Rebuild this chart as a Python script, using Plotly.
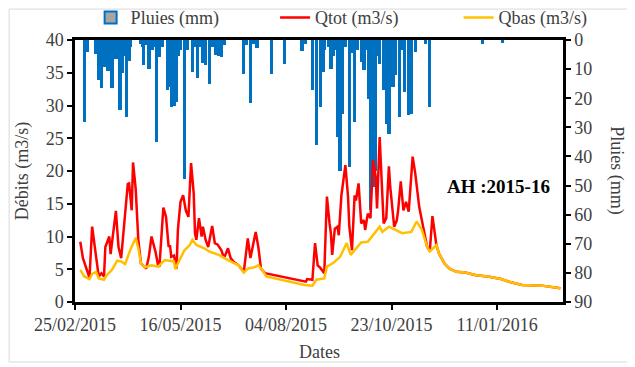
import plotly.graph_objects as go

# ---------------- data ----------------
rain_dates = [
    "2015-03-04", "2015-03-06", "2015-03-13", "2015-03-15", "2015-03-17", "2015-03-18",
    "2015-03-19", "2015-03-20", "2015-03-22", "2015-03-23", "2015-03-25", "2015-03-26",
    "2015-03-28", "2015-03-29", "2015-03-31", "2015-04-01", "2015-04-02", "2015-04-04",
    "2015-04-05", "2015-04-07", "2015-04-08", "2015-04-16", "2015-04-17", "2015-04-18",
    "2015-04-20", "2015-04-22", "2015-04-23", "2015-04-25", "2015-04-26", "2015-04-28",
    "2015-04-30", "2015-05-02", "2015-05-06", "2015-05-08", "2015-05-09", "2015-05-11",
    "2015-05-13", "2015-05-14", "2015-05-16", "2015-05-19", "2015-05-21", "2015-05-25",
    "2015-05-27", "2015-05-29", "2015-05-31", "2015-06-02", "2015-06-04", "2015-06-07",
    "2015-06-09", "2015-06-12", "2015-06-14", "2015-06-16", "2015-06-18", "2015-07-03",
    "2015-07-05", "2015-07-08", "2015-07-10", "2015-07-13", "2015-07-24", "2015-08-03",
    "2015-08-16", "2015-08-19", "2015-08-24", "2015-08-27", "2015-08-30", "2015-09-01",
    "2015-09-02", "2015-09-05", "2015-09-07", "2015-09-09", "2015-09-10", "2015-09-12",
    "2015-09-14", "2015-09-16", "2015-09-18", "2015-09-21", "2015-09-23", "2015-09-25",
    "2015-09-27", "2015-09-30", "2015-10-02", "2015-10-04", "2015-10-06", "2015-10-07",
    "2015-10-09", "2015-10-11", "2015-10-12", "2015-10-14", "2015-10-17", "2015-10-19",
    "2015-10-21", "2015-10-24", "2015-10-26", "2015-10-29", "2015-10-31", "2015-11-02",
    "2015-11-05", "2015-11-07", "2015-11-10", "2015-11-18", "2015-11-21", "2015-12-31",
    "2016-01-15",
]
rain_mm = [
    27.8, 3.9, 4.5, 13.4, 16.0, 6.0,
    8.8, 8.4, 10.3, 5.0, 16.0, 4.0,
    6.3, 5.0, 23.7, 8.0, 11.0, 5.0,
    26.0, 6.8, 2.0, 0.9, 2.0, 8.4,
    1.5, 9.6, 3.0, 3.2, 2.0, 34.7,
    5.5, 2.0, 17.0, 15.8, 22.8, 22.2,
    21.1, 5.0, 3.0, 47.5, 3.0, 10.7,
    2.0, 12.6, 2.0, 7.5, 8.4, 14.8,
    2.0, 4.9, 5.2, 5.5, 1.5, 11.5,
    1.5, 21.2, 1.0, 2.3, 11.5, 7.8,
    3.4, 1.0, 16.8, 35.8, 22.5, 10.5,
    3.0, 2.0, 9.5, 5.0, 3.0, 33.0,
    44.5, 25.0, 2.0, 43.3, 4.0, 27.8,
    3.0, 7.2, 10.0, 3.0, 19.8, 58.0,
    50.0, 44.7, 5.0, 8.0, 16.9, 28.4,
    31.8, 15.8, 11.8, 26.0, 3.0, 17.5,
    25.5, 25.0, 3.8, 0.9, 22.7, 1.2,
    0.7,
]

qtot_dates = [
    "2015-03-01", "2015-03-03", "2015-03-08", "2015-03-10", "2015-03-13", "2015-03-15",
    "2015-03-17", "2015-03-19", "2015-03-20", "2015-03-23", "2015-03-24", "2015-03-28",
    "2015-03-30", "2015-04-01", "2015-04-06", "2015-04-07", "2015-04-09", "2015-04-10",
    "2015-04-12", "2015-04-14", "2015-04-16", "2015-04-20", "2015-04-22", "2015-04-24",
    "2015-04-27", "2015-04-29", "2015-04-30", "2015-05-03", "2015-05-05", "2015-05-07",
    "2015-05-08", "2015-05-09", "2015-05-11", "2015-05-13", "2015-05-14", "2015-05-16",
    "2015-05-18", "2015-05-20", "2015-05-22", "2015-05-24", "2015-05-26", "2015-05-27",
    "2015-05-28", "2015-05-30", "2015-06-01", "2015-06-02", "2015-06-04", "2015-06-06",
    "2015-06-09", "2015-06-11", "2015-06-13", "2015-06-16", "2015-06-18", "2015-06-21",
    "2015-06-23", "2015-06-25", "2015-06-29", "2015-07-03", "2015-07-06", "2015-07-08",
    "2015-07-12", "2015-07-14", "2015-07-16", "2015-07-19", "2015-08-19", "2015-08-20",
    "2015-08-24", "2015-08-26", "2015-08-28", "2015-08-30", "2015-09-02", "2015-09-04",
    "2015-09-06", "2015-09-07", "2015-09-08", "2015-09-10", "2015-09-12", "2015-09-13",
    "2015-09-15", "2015-09-18", "2015-09-20", "2015-09-21", "2015-09-23", "2015-09-25",
    "2015-09-26", "2015-09-28", "2015-09-30", "2015-10-02", "2015-10-03", "2015-10-05",
    "2015-10-07", "2015-10-09", "2015-10-11", "2015-10-12", "2015-10-14", "2015-10-16",
    "2015-10-17", "2015-10-19", "2015-10-21", "2015-10-22", "2015-10-23", "2015-10-25",
    "2015-10-27", "2015-10-28", "2015-10-30", "2015-11-01", "2015-11-03", "2015-11-05",
    "2015-11-08", "2015-11-10", "2015-11-13", "2015-11-16", "2015-11-19", "2015-11-21",
    "2015-11-23", "2015-11-26", "2015-11-28", "2015-12-02", "2015-12-06", "2015-12-11",
    "2015-12-18", "2015-12-26", "2016-01-04", "2016-01-14", "2016-01-20", "2016-01-30",
    "2016-02-14", "2016-02-28",
]
qtot = [
    9.2, 6.7, 3.7, 11.5, 6.9, 3.9,
    4.4, 3.9, 8.4, 10.0, 7.3, 13.9,
    8.4, 6.7, 18.0, 18.1, 14.0, 21.3,
    17.3, 9.5, 5.9, 5.1, 6.9, 10.0,
    7.7, 5.6, 5.4, 14.4, 13.0, 8.4,
    8.7, 6.9, 7.1, 5.1, 11.0, 15.3,
    16.3, 14.0, 13.0, 21.2, 16.6, 10.5,
    9.5, 12.8, 10.0, 11.5, 9.5, 8.4,
    11.6, 9.0, 8.8, 7.9, 6.7, 8.2,
    6.7, 6.2, 5.6, 4.6, 9.7, 6.7,
    10.7, 8.4, 5.1, 4.4, 3.1, 3.5,
    3.4, 9.0, 5.6, 5.2, 4.4, 16.1,
    12.0, 10.5, 7.2, 11.2, 11.5, 10.2,
    16.3, 20.9, 16.1, 11.5, 7.9, 16.3,
    15.5, 18.1, 12.0, 12.5, 11.0, 13.5,
    12.8, 21.7, 19.1, 14.3, 25.2, 17.6,
    12.0, 12.8, 20.7, 17.6, 15.6, 11.5,
    12.5, 14.0, 18.4, 14.0, 15.3, 13.8,
    22.2, 19.6, 14.5, 11.5, 8.4, 7.8,
    13.1, 8.7, 7.4, 5.9, 5.1, 4.6,
    4.5, 4.1, 3.9, 3.5, 3.1, 2.6,
    2.5, 2.1,
]

qbas_dates = [
    "2015-03-01", "2015-03-04", "2015-03-08", "2015-03-10", "2015-03-13", "2015-03-15",
    "2015-03-19", "2015-03-21", "2015-03-25", "2015-03-29", "2015-04-01", "2015-04-04",
    "2015-04-08", "2015-04-12", "2015-04-14", "2015-04-16", "2015-04-19", "2015-04-24",
    "2015-04-29", "2015-05-04", "2015-05-11", "2015-05-12", "2015-05-14", "2015-05-19",
    "2015-05-23", "2015-05-25", "2015-05-28", "2015-06-03", "2015-06-07", "2015-06-14",
    "2015-06-21", "2015-06-29", "2015-07-03", "2015-07-06", "2015-07-11", "2015-07-14",
    "2015-07-17", "2015-07-20", "2015-08-18", "2015-08-24", "2015-08-27", "2015-09-02",
    "2015-09-04", "2015-09-09", "2015-09-14", "2015-09-19", "2015-09-22", "2015-09-26",
    "2015-09-30", "2015-10-05", "2015-10-09", "2015-10-14", "2015-10-16", "2015-10-21",
    "2015-10-26", "2015-10-31", "2015-11-07", "2015-11-11", "2015-11-15", "2015-11-19",
    "2015-11-21", "2015-11-26", "2015-11-28", "2015-12-02", "2015-12-06", "2015-12-11",
    "2015-12-18", "2015-12-26", "2016-01-04", "2016-01-14", "2016-01-20", "2016-01-30",
    "2016-02-14", "2016-02-28",
]
qbas = [
    4.9, 3.9, 3.5, 4.3, 4.6, 3.6,
    3.4, 4.1, 4.9, 6.3, 6.2, 5.8,
    8.0, 9.8, 8.2, 5.9, 5.3, 5.6,
    5.4, 6.4, 6.2, 5.0, 5.9, 7.9,
    8.7, 9.5, 8.7, 8.2, 7.7, 7.2,
    6.4, 5.6, 4.5, 5.1, 5.3, 5.6,
    4.9, 3.9, 2.6, 2.5, 3.4, 3.6,
    5.4, 6.0, 6.9, 9.0, 7.2, 8.2,
    9.1, 9.2, 10.2, 11.5, 10.7, 11.5,
    11.0, 10.5, 10.7, 12.3, 11.0, 8.4,
    7.7, 8.7, 7.4, 5.9, 5.1, 4.6,
    4.5, 4.1, 3.9, 3.5, 3.1, 2.6,
    2.5, 2.1,
]

x_range = ["2015-02-25", "2016-03-01"]
tick_start = "2015-02-25"
tick_step_days = 80

# ---------------- figure ----------------
FONT = "Liberation Serif"
TXT = "#404040"
DAY_MS = 86400000

fig = go.Figure()
fig.add_trace(go.Bar(
    x=rain_dates, y=rain_mm, name="Pluies (mm)", yaxis="y", legend="legend",
    width=1.0 * DAY_MS,
    marker=dict(color="#A6A6A6", line=dict(color="#0070C0", width=2)),
))
fig.add_trace(go.Scatter(
    x=qtot_dates, y=qtot, name="Qtot (m3/s)", yaxis="y2", mode="lines", legend="legend2",
    line=dict(color="#FF0000", width=2.5),
))
fig.add_trace(go.Scatter(
    x=qbas_dates, y=qbas, name="Qbas (m3/s)", yaxis="y2", mode="lines", legend="legend3",
    line=dict(color="#FFC000", width=2.5),
))

legend_common = dict(
    orientation="h", xanchor="left", y=1.085, yanchor="middle",
    font=dict(family=FONT, size=18, color=TXT), bgcolor="rgba(0,0,0,0)",
)
axis_common = dict(
    showline=True, linecolor="black", linewidth=2.5,
    ticks="outside", ticklen=5, tickwidth=2, tickcolor="black",
    showgrid=False, zeroline=False,
    tickfont=dict(family=FONT, size=18, color=TXT),
)

# the page body adds an 8px offset, so the figure is sized to the remaining window
fig.update_layout(
    width=627, height=359,
    margin=dict(l=67, r=72, t=32, b=65, autoexpand=False),
    paper_bgcolor="white", plot_bgcolor="white",
    font=dict(family=FONT, size=18, color=TXT),
    bargap=0,
    showlegend=True,
    legend=dict(x=0.032, **legend_common),
    legend2=dict(x=0.41, **legend_common),
    legend3=dict(x=0.786, **legend_common),
    xaxis=dict(
        type="date", range=x_range, mirror=True,
        tick0=tick_start, dtick=tick_step_days * DAY_MS, tickformat="%d/%m/%Y",
        **axis_common,
    ),
    yaxis=dict(side="right", range=[90, 0], dtick=10, **axis_common),
    yaxis2=dict(side="left", overlaying="y", range=[0, 40], dtick=5, **axis_common),
    annotations=[
        dict(text="Dates", xref="paper", yref="paper", x=0.5, y=-0.191,
             showarrow=False, xanchor="center", yanchor="middle",
             font=dict(family=FONT, size=18, color=TXT)),
        dict(text="Débits (m3/s)", xref="paper", yref="paper", x=-0.108, y=0.5,
             textangle=-90, showarrow=False, xanchor="center", yanchor="middle",
             font=dict(family=FONT, size=18, color=TXT)),
        dict(text="Pluies (mm)", xref="paper", yref="paper", x=1.11, y=0.5,
             textangle=90, showarrow=False, xanchor="center", yanchor="middle",
             font=dict(family=FONT, size=18, color=TXT)),
        dict(text="<b>AH :2015-16</b>", xref="paper", yref="paper", x=0.868, y=0.44,
             showarrow=False, xanchor="center", yanchor="middle",
             font=dict(family=FONT, size=19, color="black")),
    ],
    shapes=[
        dict(type="rect", xref="paper", yref="paper", x0=-0.135, x1=1.1373, y0=-0.229, y1=1.118,
             line=dict(color="#D9D9D9", width=1), fillcolor="rgba(0,0,0,0)", layer="below"),
    ],
)

fig.write_html("out.html")
